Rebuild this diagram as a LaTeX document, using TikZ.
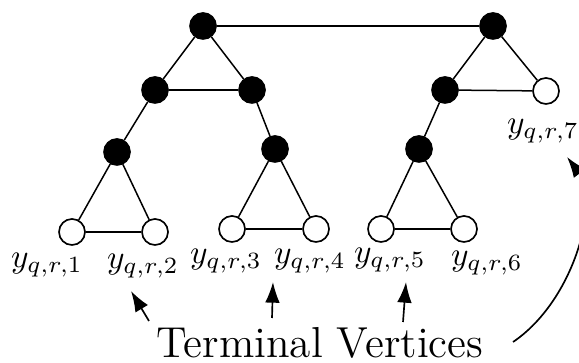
\documentclass[tikz,border=0pt]{standalone}
\usetikzlibrary{arrows.meta}
\begin{document}
\begin{tikzpicture}[x=0.3pt,y=-0.3pt,
  vtx/.style={circle,draw,line width=0.5pt,minimum size=7.8pt,inner sep=0pt},
  inner/.style={vtx,fill=black},
  term/.style={vtx,fill=white},
  edge/.style={line width=0.45pt},
  pointer/.style={line width=0.5pt,-{Latex[length=6.2pt,width=4.4pt]}},
  lab/.style={inner sep=0pt}]
\useasboundingbox (0,0) rectangle (579,363);

% internal vertices
\node[inner] (a) at (203,26) {};
\node[inner] (b) at (493,26) {};
\node[inner] (c) at (155,90) {};
\node[inner] (d) at (252,90) {};
\node[inner] (e) at (117,152) {};
\node[inner] (h) at (275,149) {};
\node[inner] (k) at (445,90) {};
\node[inner] (m) at (419,149) {};

% terminal vertices
\node[term] (t1) at (72,232) {};
\node[term] (t2) at (155,232) {};
\node[term] (t3) at (232,229) {};
\node[term] (t4) at (316,229) {};
\node[term] (t5) at (381,229) {};
\node[term] (t6) at (464,229) {};
\node[term] (t7) at (546,91) {};

% edges
\draw[edge] (a) -- (b);
\draw[edge] (a) -- (c);
\draw[edge] (a) -- (d);
\draw[edge] (c) -- (d);
\draw[edge] (c) -- (e);
\draw[edge] (e) -- (t1);
\draw[edge] (e) -- (t2);
\draw[edge] (t1) -- (t2);
\draw[edge] (d) -- (h);
\draw[edge] (h) -- (t3);
\draw[edge] (h) -- (t4);
\draw[edge] (t3) -- (t4);
\draw[edge] (b) -- (k);
\draw[edge] (b) -- (t7);
\draw[edge] (k) -- (t7);
\draw[edge] (k) -- (m);
\draw[edge] (m) -- (t5);
\draw[edge] (m) -- (t6);
\draw[edge] (t5) -- (t6);

% labels of the terminal vertices
\node[lab] (l1) at (47,265) {$y_{q,r,1}$};
\node[lab] (l2) at (143,266) {$y_{q,r,2}$};
\node[lab] (l3) at (226,261) {$y_{q,r,3}$};
\node[lab] (l4) at (310,261) {$y_{q,r,4}$};
\node[lab] (l5) at (390,260) {$y_{q,r,5}$};
\node[lab] (l6) at (487,263) {$y_{q,r,6}$};
\node[lab] (l7) at (543,131) {$y_{q,r,7}$};

% caption and pointers
\node[lab,anchor=base,font=\fontsize{13}{15}\selectfont] (cap) at (320,358) {Terminal Vertices};

\coordinate (s2) at (149,321);
\coordinate (e2) at (131,291);
\coordinate (s4) at (272,318);
\coordinate (e4) at (273,282);
\coordinate (s5) at (403,322);
\coordinate (e5) at (406,282);
\coordinate (s7) at (513,342);
\coordinate (e7) at (567,157);

\draw[pointer] (s2) -- (e2);
\draw[pointer] (s4) -- (e4);
\draw[pointer] (s5) -- (e5);
\draw[pointer] (s7) .. controls (575,300) and (600,200) .. (e7);
\end{tikzpicture}
\end{document}
